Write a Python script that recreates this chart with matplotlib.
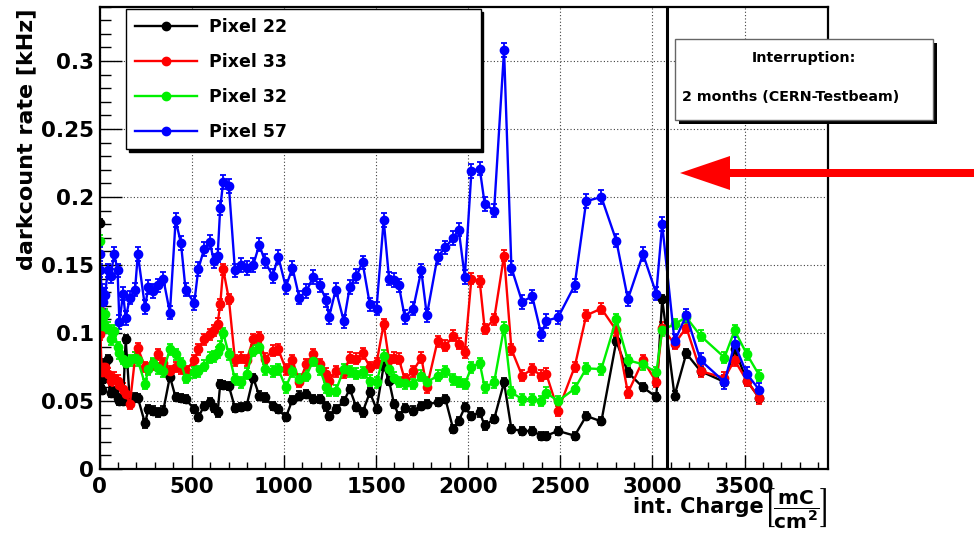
import matplotlib.pyplot as plt
from matplotlib.patches import Rectangle, FancyArrow
from matplotlib.lines import Line2D
from matplotlib.ticker import MultipleLocator

plt.rcParams['font.family'] = ['DejaVu Sans']
plt.rcParams['font.weight'] = 'bold'
plt.rcParams['mathtext.fontset'] = 'dejavusans'
plt.rcParams['mathtext.default'] = 'bf'

# integrated charge in mC/cm^2 at each measurement
charge = [
    0, 5, 12, 20, 30, 45, 60, 80, 98, 108,
    128, 142, 165, 193, 208, 247, 265, 292, 319, 346,
    382, 413, 442, 467, 514, 536, 568, 599, 620, 641,
    655, 671, 702, 735, 767, 798, 834, 867, 897, 939,
    970, 1011, 1047, 1084, 1123, 1159, 1196, 1230, 1246, 1282,
    1326, 1358, 1394, 1427, 1467, 1503, 1542, 1571, 1598, 1624,
    1656, 1702, 1746, 1776, 1834, 1877, 1919, 1949, 1982, 2018,
    2063, 2090, 2141, 2195, 2235, 2293, 2348, 2397, 2424, 2488,
    2578, 2641, 2723, 2804, 2867, 2949, 3021, 3053, 3120, 3184,
    3261, 3391, 3446, 3512, 3581]

# darkcount rates in kHz
pixel22 = [
    .181, .060, .058, .066, .078, .081, .056, .0575, .052, .050,
    .050, .0955, .049, .0527, .0525, .0335, .044, .043, .0416, .043,
    .068, .0527, .052, .0514, .044, .038, .0465, .049, .045, .0416,
    .0625, .062, .061, .045, .0453, .0465, .067, .054, .0526, .0465,
    .044, .038, .051, .054, .055, .0514, .0514, .046, .039, .044,
    .050, .0588, .0453, .0416, .0563, .044, .076, .065, .048, .039,
    .045, .043, .0465, .0477, .049, .0514, .0294, .0355, .0453, .039,
    .0416, .032, .0367, .0637, .0294, .028, .028, .0245, .0245, .028,
    .0245, .039, .035, .094, .071, .060, .053, .125, .054, .085,
    .072, .064, .088, .065, .052]
pixel33 = [
    .117, .099, .071, .075, .075, .070, .065, .067, .065, .062,
    .059, .055, .048, .082, .089, .075, .074, .077, .0845, .078,
    .072, .075, .074, .072, .080, .088, .0955, .099, .102, .107,
    .121, .147, .125, .080, .082, .080, .0955, .097, .081, .087,
    .088, .0735, .080, .064, .077, .0845, .077, .070, .065, .072,
    .071, .082, .081, .085, .075, .078, .1066, .080, .082, .081,
    .066, .072, .082, .060, .094, .0906, .098, .092, .086, .140,
    .138, .103, .110, .157, .088, .0686, .0735, .0686, .070, .043,
    .075, .113, .118, .102, .056, .080, .064, .104, .092, .104,
    .072, .067, .080, .065, .052]
pixel32 = [
    .168, .116, .110, .105, .114, .104, .0955, .1016, .0894, .085,
    .081, .078, .080, .082, .080, .0625, .0735, .078, .074, .072,
    .088, .0845, .078, .067, .071, .072, .076, .082, .083, .0857,
    .090, .100, .0845, .066, .0637, .070, .087, .0894, .0735, .072,
    .0735, .060, .072, .066, .0686, .0796, .0735, .060, .0575, .0575,
    .0735, .072, .070, .071, .065, .0637, .0833, .0735, .067, .064,
    .063, .0625, .0686, .0637, .0686, .072, .066, .064, .0625, .0747,
    .078, .060, .0637, .104, .0563, .0514, .0514, .050, .056, .050,
    .059, .074, .0735, .110, .080, .077, .071, .102, .1066, .1115,
    .098, .082, .102, .0845, .0686]
pixel57 = [
    .158, .146, .131, .123, .128, .146, .142, .158, .146, .108,
    .129, .111, .126, .132, .158, .119, .134, .131, .135, .140,
    .115, .183, .166, .132, .122, .147, .162, .167, .153, .157,
    .192, .211, .208, .146, .150, .148, .150, .165, .153, .142,
    .156, .134, .148, .126, .131, .141, .135, .124, .112, .132,
    .1085, .134, .142, .152, .121, .118, .183, .140, .139, .135,
    .112, .118, .146, .113, .156, .163, .170, .176, .141, .219,
    .221, .195, .190, .308, .148, .123, .127, .099, .109, .1115,
    .135, .197, .200, .168, .125, .158, .129, .180, .094, .113,
    .080, .064, .092, .070, .058]

labels = ['Pixel 22', 'Pixel 33', 'Pixel 32', 'Pixel 57']
colors = ['black', '#ff0000', '#00f000', '#0000ff']
errors = [0.003, 0.004, 0.004, 0.005]

interruption_at = 3078
xticks = [0, 500, 1000, 1500, 2000, 2500, 3000, 3500]
xtick_labels = ['0', '500', '1000', '1500', '2000', '2500', '3000', '3500']
yticks = [0, 0.05, 0.1, 0.15, 0.2, 0.25, 0.3]
ytick_labels = ['0', '0.05', '0.1', '0.15', '0.2', '0.25', '0.3']

W, H = 974, 541
fig = plt.figure(figsize=(W / 100, H / 100), dpi=100)
ax = fig.add_axes([99.5 / W, 1 - 469 / H, 728 / W, 462.3 / H])


def px(x, y):
    # pixel position (from top left) -> figure fraction
    return x / W, 1 - y / H


for vals, col, err in zip([pixel22, pixel33, pixel32, pixel57], colors, errors):
    ax.errorbar(charge, vals, yerr=err, color=col, marker='o', ms=6,
                lw=1.7, elinewidth=1.3, capsize=2.5, capthick=1.3)

ax.axvline(interruption_at, color='k', lw=2.2, zorder=5)

ax.set_xlim(0, 3950)
ax.set_ylim(0, 0.34)
ax.set_xticks(xticks, xtick_labels, fontsize=15.5, fontweight='bold')
ax.set_yticks(yticks, ytick_labels, fontsize=15.5, fontweight='bold')
ax.xaxis.set_minor_locator(MultipleLocator(100))
ax.yaxis.set_minor_locator(MultipleLocator(0.01))
ax.tick_params(which='both', direction='in', top=False, right=False, width=1)
ax.tick_params(axis='x', which='major', length=10, pad=6)
ax.tick_params(axis='x', which='minor', length=5)
ax.tick_params(axis='y', which='major', length=16, pad=4)
ax.tick_params(axis='y', which='minor', length=8)
ax.grid(which='major', ls=(0, (1, 2)), color='0.25', lw=0.8)
for s in ax.spines.values():
    s.set_linewidth(1.6)

handles = [Line2D([], [], color=c, marker='o', ms=6, lw=1.7) for c in colors]
ax.legend(handles, labels, loc='upper left',
          bbox_to_anchor=(0.0364, 0.694, 0.4872, 0.300), mode='expand',
          borderaxespad=0, fontsize=12.5, labelspacing=0.97,
          handlelength=3.6, handletextpad=0.7, borderpad=0.5,
          fancybox=False, framealpha=1, edgecolor='k',
          shadow={'color': 'k', 'alpha': 1})

# info box with drop shadow
bx0, by0, bx1, by1 = 674.7, 39, 932.7, 120
fig.add_artist(Rectangle(px(bx0 + 4, by1 + 4), (bx1 - bx0) / W, (by1 - by0) / H,
                         fc='k', ec='none', transform=fig.transFigure, zorder=3))
fig.add_artist(Rectangle(px(bx0, by1), (bx1 - bx0) / W, (by1 - by0) / H,
                         fc='white', ec='0.4', lw=1, transform=fig.transFigure, zorder=3))
fig.text(*px(803.7, 58), 'Interruption:', ha='center', va='center',
         fontsize=10.3, zorder=4)
fig.text(*px(682, 97), '2 months (CERN-Testbeam)', ha='left', va='center',
         fontsize=10.3, zorder=4)

fig.add_artist(FancyArrow(974 / W, 1 - 173 / H, -(974 - 680) / W, 0,
                          width=8 / H, head_width=34 / H, head_length=50 / W,
                          length_includes_head=True, color='#ff0000', lw=0,
                          transform=fig.transFigure, zorder=3))

# x axis title: plain part plus the bracketed unit fraction
fig.text(*px(764, 513), 'int. Charge', ha='right', va='baseline', fontsize=15)
fig.text(*px(828, 513), r'$\left[\dfrac{mC}{cm^{2}}\right]$', ha='right',
         va='baseline', fontsize=14.5)
fig.text(*px(26, 8), 'darkcount rate [kHz]', rotation=90, ha='center',
         va='top', fontsize=16)

fig.savefig('out.png', dpi=100)
